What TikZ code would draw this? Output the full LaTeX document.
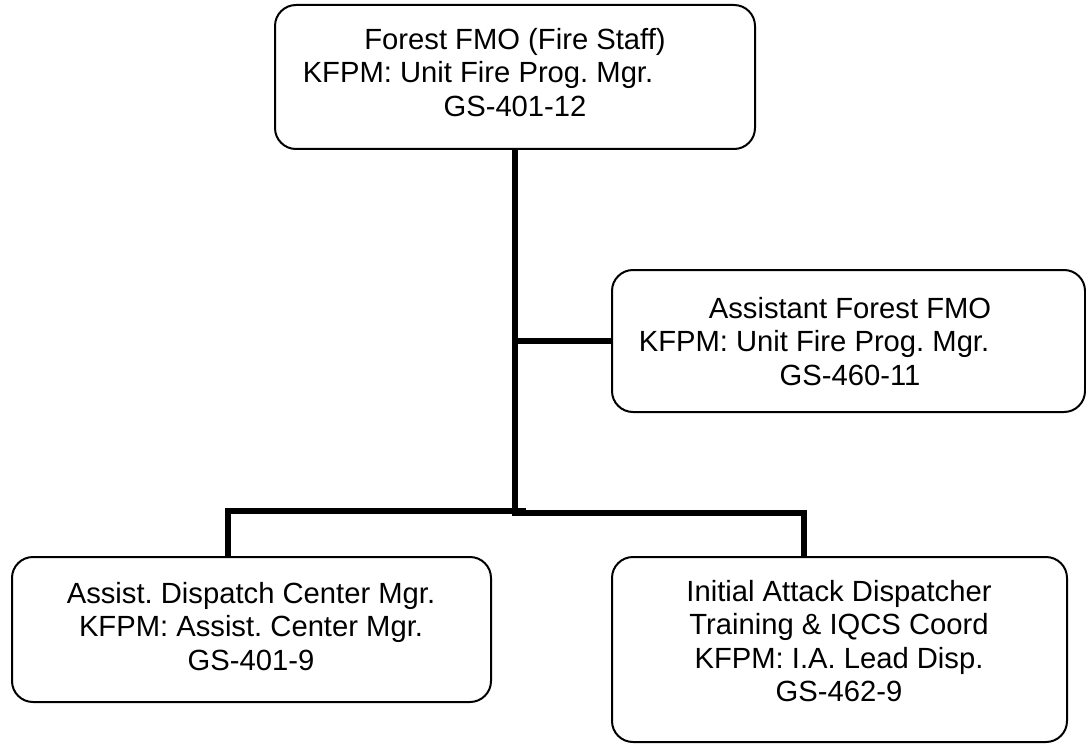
\documentclass[tikz,border=0pt]{standalone}
\usepackage{fontspec}
\setmainfont{Liberation Sans}
\frenchspacing
\begin{document}
\begin{tikzpicture}[x=1pt,y=-1pt,
  box/.style={draw=black, line width=2pt, rounded corners=21pt, inner sep=0pt, fill=white},
  txt/.style={align=center, inner sep=0pt, font=\fontsize{29.2}{33.5}\selectfont},
  conn/.style={draw=black, line width=5.5pt, line cap=butt, line join=miter}]
\useasboundingbox (0,0) rectangle (1086,746);
% boxes
\node[box, minimum width=480pt, minimum height=144pt] (top) at (515,77) {};
\node[box, minimum width=473pt, minimum height=142pt] (asst) at (848.5,341) {};
\node[box, minimum width=479pt, minimum height=145pt] (ldisp) at (251.5,629.5) {};
\node[box, minimum width=455pt, minimum height=185pt] (ia) at (839.5,649.5) {};
% texts
\node[txt] (topT) at (515,72.5) {Forest FMO (Fire Staff)\\KFPM: Unit Fire Prog. Mgr.\rule{74pt}{0pt}\\GS-401-12};
\node[txt] (asstT) at (850,341.5) {Assistant Forest FMO\\KFPM: Unit Fire Prog. Mgr.\rule{72pt}{0pt}\\GS-460-11};
\node[txt] (ldispT) at (251,626.5) {Assist. Dispatch Center Mgr.\\KFPM: Assist. Center Mgr.\\GS-401-9};
\node[txt] (iaT) at (839,641) {Initial Attack Dispatcher\\Training \& IQCS Coord\\KFPM: I.A. Lead Disp.\\GS-462-9};
% junctions
\coordinate (j1) at (515,341);
\coordinate (j2) at (515,511);
\coordinate (lend) at (526,511);
\coordinate (lcor) at (228,511);
\coordinate (rstart) at (512.25,513);
\coordinate (rcor) at (804,513);
% connectors
\draw[conn] (top.south) -- (top.south |- j2) -- ++(0,2.75);
\draw[conn] (j1) -- (asst.west);
\draw[conn] (lend) -- (lcor) -- (lcor |- ldisp.north);
\draw[conn] (rstart) -- (rcor) -- (rcor |- ia.north);
\end{tikzpicture}
\end{document}
